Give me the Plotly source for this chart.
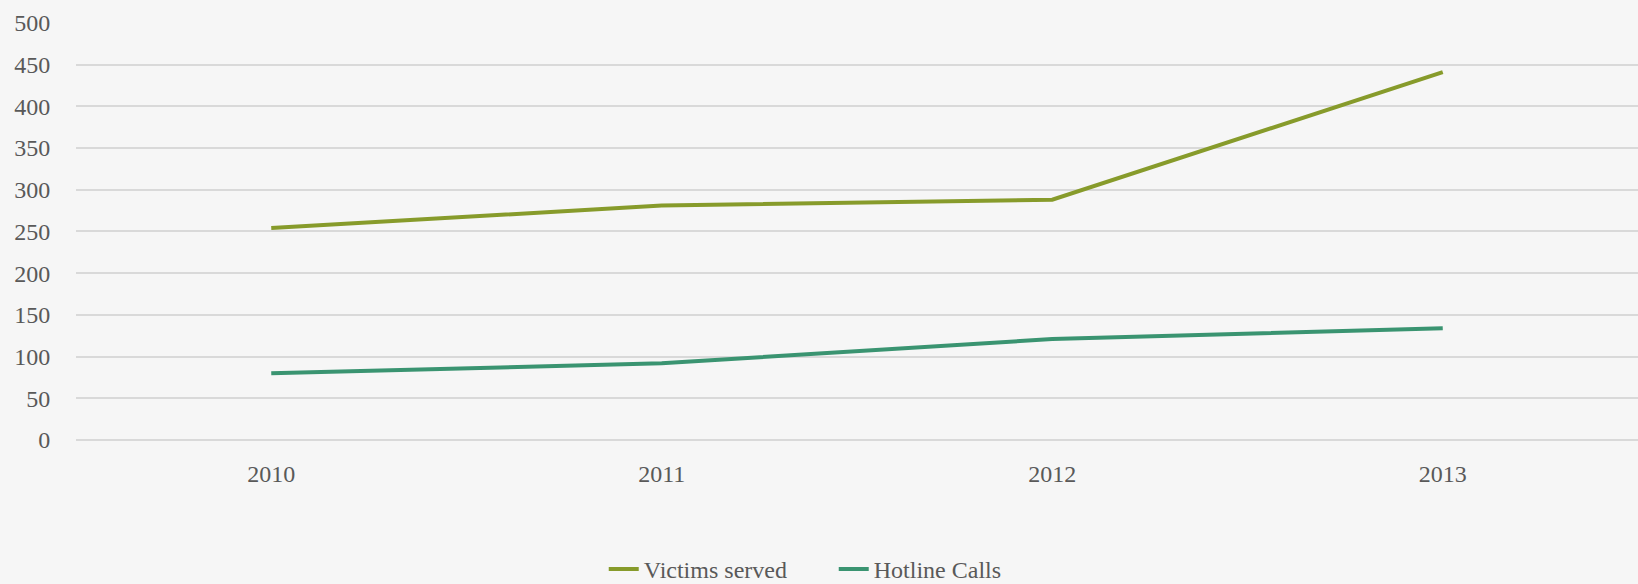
import plotly.graph_objects as go

years = ["2010", "2011", "2012", "2013"]
victims_served = [254, 281, 288, 441]
hotline_calls = [80, 92, 121, 134]
y_ticks = [0, 50, 100, 150, 200, 250, 300, 350, 400, 450, 500]

font_family = "Liberation Serif, Times New Roman, serif"
text_color = "#595959"
grid_color = "#D9D9D9"

fig = go.Figure()
fig.add_trace(go.Scatter(x=years, y=victims_served, mode="lines", name="Victims served",
                         line=dict(color="#879B2B", width=4)))
fig.add_trace(go.Scatter(x=years, y=hotline_calls, mode="lines", name="Hotline Calls",
                         line=dict(color="#3A9471", width=4)))

fig.update_layout(
    width=1638, height=584,
    margin=dict(l=76, r=0, t=22, b=144),
    paper_bgcolor="#F6F6F6", plot_bgcolor="#F6F6F6",
    font=dict(family=font_family, color=text_color, size=24),
    showlegend=True,
    legend=dict(orientation="h", xref="container", yref="container", x=0.509, y=0.025,
                xanchor="center", yanchor="middle", font=dict(size=24, color=text_color),
                bgcolor="rgba(0,0,0,0)", itemwidth=30, tracegroupgap=0,
                entrywidth=185, entrywidthmode="pixels"),
    xaxis=dict(type="category", range=[-0.5, 3.5], showgrid=False, zeroline=False,
               showline=False, ticks="outside", ticklen=12, tickcolor="rgba(0,0,0,0)",
               tickfont=dict(size=24, color=text_color)),
    yaxis=dict(range=[0, 501], tickvals=y_ticks, showgrid=True, gridcolor=grid_color,
               gridwidth=1.5, zeroline=True, zerolinecolor=grid_color, zerolinewidth=1.5,
               showline=False, ticks="outside", ticklen=20,
               tickcolor="rgba(0,0,0,0)", tickfont=dict(size=24, color=text_color)),
)

fig.write_html("out.html", config={"displayModeBar": False},
               post_script="document.body.style.margin='0';document.body.style.padding='0';")
